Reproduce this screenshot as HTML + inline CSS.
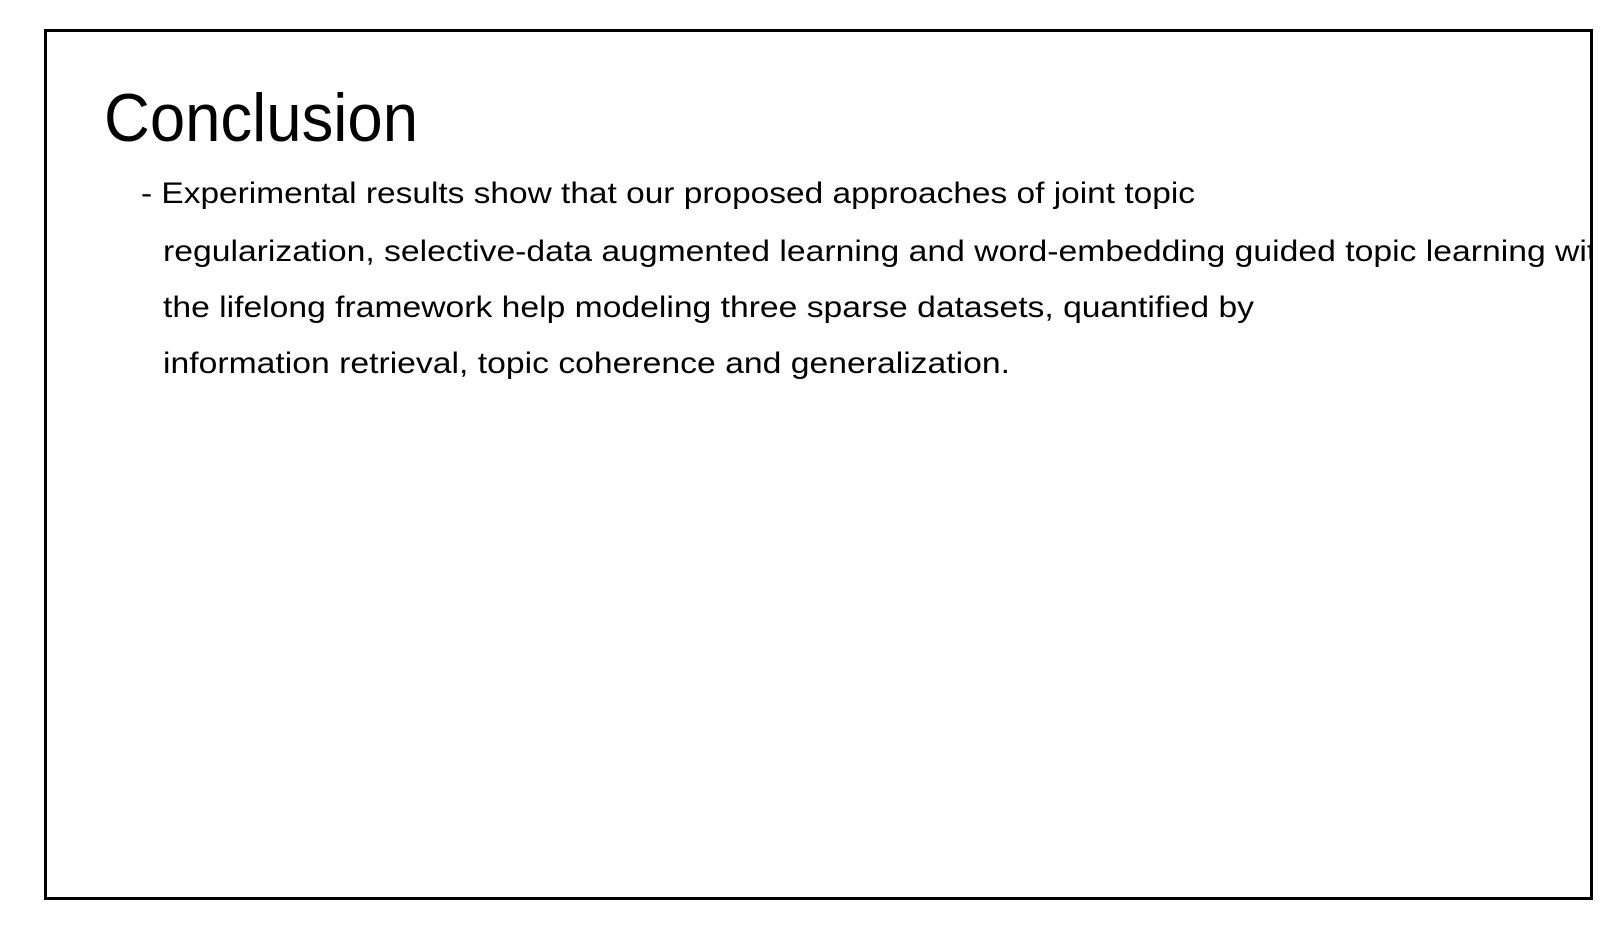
<!DOCTYPE html>
<html><head><meta charset="utf-8"><style>
html,body{margin:0;padding:0;background:#fff;width:1620px;height:944px;overflow:hidden}
svg{display:block}
text{font-family:"Liberation Sans",sans-serif;fill:#000}
</style></head><body>
<svg width="1620" height="944" viewBox="0 0 1620 944">
<defs><clipPath id="c"><rect x="45" y="30" width="1546" height="868"/></clipPath></defs>
<rect x="45.5" y="30.5" width="1546" height="868" fill="none" stroke="#000" stroke-width="3"/>
<text x="104" y="141" font-size="68" textLength="314" lengthAdjust="spacingAndGlyphs">Conclusion</text>
<g clip-path="url(#c)" font-size="30">
<text x="141" y="203" textLength="1054" lengthAdjust="spacingAndGlyphs">- Experimental results show that our proposed approaches of joint topic</text>
<text x="163" y="261" textLength="1452" lengthAdjust="spacingAndGlyphs">regularization, selective-data augmented learning and word-embedding guided topic learning with</text>
<text x="163" y="317" textLength="1091" lengthAdjust="spacingAndGlyphs">the lifelong framework help modeling three sparse datasets, quantified by</text>
<text x="163" y="373" textLength="847" lengthAdjust="spacingAndGlyphs">information retrieval, topic coherence and generalization.</text>
</g>
</svg>
</body></html>
